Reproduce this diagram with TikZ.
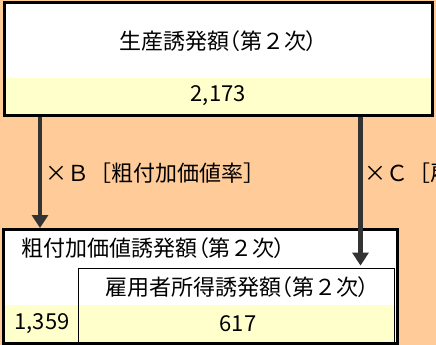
\documentclass[tikz,border=0pt]{standalone}
\usepackage{fontspec}
\setmainfont{Noto Sans CJK JP}
\usetikzlibrary{arrows.meta}
\definecolor{paper}{HTML}{FFCC99}
\definecolor{bandyellow}{HTML}{FFFFCC}
\definecolor{arrowgrey}{HTML}{333333}
\newcommand{\jpfont}{\fontsize{22}{26}\selectfont}
\newcommand{\lpar}{{\addfontfeature{RawFeature=+palt}（}}
\newcommand{\rpar}{{\addfontfeature{RawFeature=+palt}）}}
\tikzset{
  frame/.style={draw=black,line width=3pt,fill=white,inner sep=0pt},
  valband/.style={fill=bandyellow,inner sep=0pt,font=\jpfont},
  subframe/.style={draw=black,line width=0.8pt,inner sep=0pt},
  txt/.style={inner sep=0pt,font=\jpfont},
  flow/.style={draw=arrowgrey,line width=4.5pt,-{Triangle[width=16pt,length=13pt]}},
}
\begin{document}
\begin{tikzpicture}[x=1pt,y=-1pt]
\useasboundingbox (0,0) rectangle (436,345);
\fill[paper] (0,0) rectangle (436,345);
% top box
\node[frame,minimum width=428.5pt,minimum height=112.5pt] (prod) at (218.25,58.75) {};
\node[valband,minimum width=425.5pt,minimum height=35.5pt] (prodval) at (218.25,95.75) {2,173};
\node[txt] (prodtitle) at (218,41) {生産誘発額\lpar 第２次\rpar};
% lower box
\node[frame,minimum width=394pt,minimum height=113.5pt] (vadd) at (200,286.25) {};
\node[valband,minimum width=391pt,minimum height=36.5pt] (vaddval) at (200,323.25) {};
\node[subframe,minimum width=316.5pt,minimum height=75pt] (comp) at (236.25,305.5) {};
\node[txt,anchor=west] (vaddtitle) at (21,248) {粗付加価値誘発額\lpar 第２次\rpar};
\node[txt] (comptitle) at (237,287) {雇用者所得誘発額\lpar 第２次\rpar};
\node[txt] (vaddnum) at (42,324) {1,359};
\node[txt] (compnum) at (238,324) {617};
% arrows
\coordinate (bx) at (40,0);
\coordinate (cx) at (360.5,0);
\draw[flow] (prod.south -| bx) -- (vadd.north -| bx);
\draw[flow,shorten >=2pt] (prod.south -| cx) -- (comp.north -| cx);
\node[txt,anchor=west] (brate) at (45,173) {×Ｂ［粗付加価値率］};
\node[txt,anchor=west] (crate) at (364,173) {×Ｃ［雇};
\end{tikzpicture}
\end{document}
